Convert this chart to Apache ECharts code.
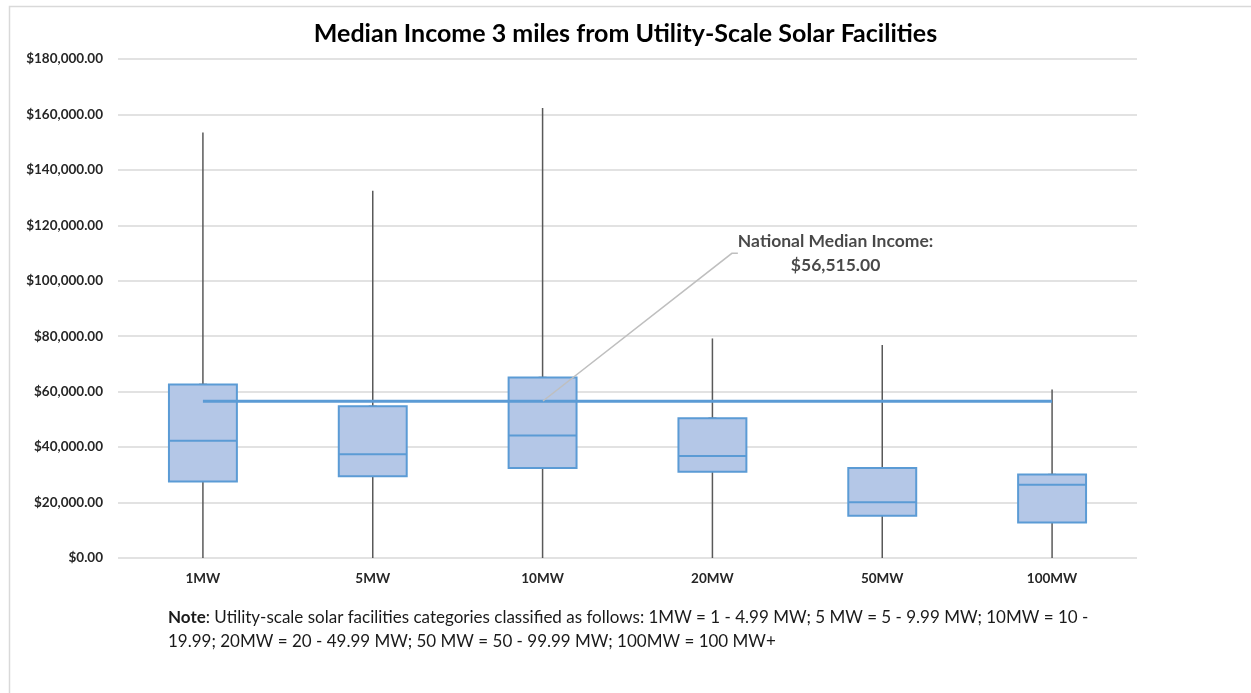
<!DOCTYPE html>
<html>
<head>
<meta charset="utf-8">
<script src="https://cdn.jsdelivr.net/npm/echarts@6/dist/echarts.min.js"></script>
<style>
  html, body { margin: 0; padding: 0; background: #fff; }
  #chart { width: 1251px; height: 693px; }
</style>
</head>
<body>
<div id="chart"></div>
<script>
// box statistics
const categories = ['1MW', '5MW', '10MW', '20MW', '50MW', '100MW'];
const minVals = [0, 0, 0, 0, 0, 0];
const q1Vals = [27600, 29500, 32500, 31100, 15200, 12800];
const medianVals = [42300, 37400, 44200, 36800, 20100, 26400];
const q3Vals = [62600, 54700, 65100, 50400, 32500, 30100];
const maxVals = [153500, 132500, 162300, 79200, 76800, 60800];
const nationalMedian = 56515;
const yTicks = [0, 20000, 40000, 60000, 80000, 100000, 120000, 140000, 160000, 180000];

const FONT = 'Lato, "Open Sans", sans-serif';
const chart = echarts.init(document.getElementById('chart'));

const boxData = categories.map((c, i) => [i, minVals[i], q1Vals[i], medianVals[i], q3Vals[i], maxVals[i]]);

function renderBox(params, api) {
  const x = api.value(0);
  const pMin = api.coord([x, api.value(1)]);
  const pQ1 = api.coord([x, api.value(2)]);
  const pMed = api.coord([x, api.value(3)]);
  const pQ3 = api.coord([x, api.value(4)]);
  const pMax = api.coord([x, api.value(5)]);
  const halfW = api.size([1, 0])[0] * 0.2;
  const cx = pMed[0];
  return {
    type: 'group',
    children: [
      { type: 'line', shape: { x1: cx, y1: pMax[1], x2: cx, y2: pQ3[1] }, style: { stroke: '#595959', lineWidth: 1.5 } },
      { type: 'line', shape: { x1: cx, y1: pQ1[1], x2: cx, y2: pMin[1] }, style: { stroke: '#595959', lineWidth: 1.5 } },
      { type: 'line', shape: { x1: cx - 4, y1: pQ3[1], x2: cx + 4, y2: pQ3[1] }, style: { stroke: '#595959', lineWidth: 1.5 } },
      {
        type: 'rect',
        shape: { x: cx - halfW, y: pQ3[1], width: halfW * 2, height: pQ1[1] - pQ3[1] },
        style: { fill: '#b4c7e7', stroke: '#5b9bd5', lineWidth: 2 }
      },
      { type: 'line', shape: { x1: cx - halfW, y1: pMed[1], x2: cx + halfW, y2: pMed[1] }, style: { stroke: '#5b9bd5', lineWidth: 2 } }
    ]
  };
}

const option = {
  backgroundColor: '#fff',
  animation: false,
  title: {
    text: 'Median Income 3 miles from Utility-Scale Solar Facilities',
    left: 'center',
    top: 16,
    textStyle: { fontFamily: FONT, fontSize: 25, fontWeight: 'bold', color: '#000' }
  },
  grid: { left: 118, right: 114, top: 59, bottom: 135 },
  xAxis: {
    type: 'category',
    data: categories,
    axisLine: { show: false },
    axisTick: { show: false },
    axisLabel: { margin: 14, fontFamily: FONT, fontSize: 13.5, fontWeight: 'bold', color: '#262626' }
  },
  yAxis: {
    type: 'value',
    min: yTicks[0],
    max: yTicks[yTicks.length - 1],
    interval: 20000,
    axisLine: { show: false },
    axisTick: { show: false },
    splitLine: { lineStyle: { color: '#d9d9d9', width: 1.5 } },
    axisLabel: {
      margin: 15,
      fontFamily: FONT,
      fontSize: 13.5,
      fontWeight: 'bold',
      color: '#262626',
      formatter: v => '$' + v.toLocaleString('en-US', { minimumFractionDigits: 2, maximumFractionDigits: 2 })
    }
  },
  series: [
    {
      type: 'custom',
      renderItem: renderBox,
      data: boxData,
      encode: { x: 0, y: [1, 2, 3, 4, 5] },
      z: 2
    },
    {
      type: 'line',
      data: categories.map(() => nationalMedian),
      symbol: 'none',
      lineStyle: { color: '#5b9bd5', width: 3 },
      z: 3
    },
    {
      type: 'scatter',
      data: [[categories[2], nationalMedian]],
      symbolSize: 1,
      itemStyle: { color: 'transparent' },
      z: 4,
      label: {
        show: true,
        position: 'inside',
        formatter: 'National Median Income:\n$56,515.00',
        fontFamily: FONT,
        fontSize: 17.5,
        fontWeight: 'bold',
        lineHeight: 24,
        align: 'center',
        color: '#1a1a1a'
      },
      labelLayout: { dx: 293, dy: -148 },
      labelLine: { show: true, length2: 6, lineStyle: { color: '#bfbfbf', width: 1.5 } }
    }
  ],
  graphic: [
    {
      type: 'rect',
      left: 7,
      top: 4,
      shape: { width: 1300, height: 720 },
      style: { fill: 'none', stroke: '#d9d9d9', lineWidth: 1.5 },
      silent: true,
      z: -10
    },
    {
      type: 'text',
      left: 168,
      top: 606,
      style: {
        text: '{b|Note}: Utility-scale solar facilities categories classified as follows: 1MW = 1 - 4.99 MW; 5 MW = 5 - 9.99 MW; 10MW = 10 -\n19.99; 20MW = 20 - 49.99 MW; 50 MW = 50 - 99.99 MW; 100MW = 100 MW+',
        fontFamily: FONT,
        fontSize: 17,
        lineHeight: 24,
        fill: '#1a1a1a',
        rich: {
          b: { fontFamily: FONT, fontSize: 17, fontWeight: 'bold', fill: '#1a1a1a', lineHeight: 24 }
        }
      }
    }
  ]
};

chart.setOption(option);
</script>
</body>
</html>
